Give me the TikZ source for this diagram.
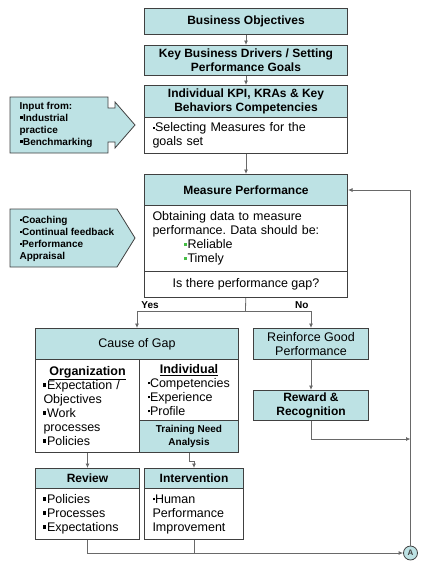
\documentclass[tikz,border=0pt]{standalone}
\usepackage{fontspec}
\setmainfont{Liberation Sans}
\usetikzlibrary{arrows.meta}

\definecolor{headfill}{RGB}{189,226,228}
\definecolor{boxline}{RGB}{64,64,64}
\definecolor{linegray}{RGB}{105,105,105}
\definecolor{bulgreen}{RGB}{70,190,70}
\newcommand{\sqbul}{\rule[2.5pt]{3pt}{3.5pt}\kern0.5pt}
\newcommand{\dotbul}{\rule[3pt]{2pt}{2pt}\kern0.5pt}
\newcommand{\grbul}{\textcolor{bulgreen}{\rule[2.5pt]{3.5pt}{3.5pt}}\kern0.5pt}
\frenchspacing

\begin{document}
\begin{tikzpicture}[x=1pt, y=-1pt,
  box/.style={draw=boxline, line width=1pt, anchor=north west, inner sep=0pt, align=center},
  head/.style={box, fill=headfill, font=\fontsize{12}{14}\selectfont\bfseries},
  body/.style={box, fill=white, align=left, font=\fontsize{12.5}{14}\selectfont},
  callout/.style={draw=boxline, line width=0.8pt, fill=headfill},
  note/.style={anchor=west, align=left, font=\fontsize{10}{12}\selectfont\bfseries},
  conn/.style={draw=linegray, line width=0.8pt, -{Latex[length=4.5pt,width=4pt]}},
  plain/.style={draw=linegray, line width=0.8pt}]
  \useasboundingbox (0,0) rectangle (425,563);

  %main column
  \node[head, minimum width=203pt, minimum height=26pt] (bo) at (144,8) {Business Objectives};
  \node[head, minimum width=203pt, minimum height=30pt] (kbd) at (144,45) {Key Business Drivers / Setting\\Performance Goals};
  \node[head, minimum width=203pt, minimum height=32pt] (kpih) at (144,85) {Individual KPI, KRAs \& Key\\Behaviors Competencies};
  \node[body, minimum width=203pt, minimum height=36pt, text width=187pt] (kpib) at (144,117) {\dotbul Selecting Measures for the\\goals set};
  \node[head, minimum width=203pt, minimum height=31pt] (mph) at (144,174) {Measure Performance};
  \node[body, minimum width=203pt, minimum height=66pt, text width=187pt] (mpb) at (144,205)
    {Obtaining data to measure\\performance. Data should be:\\\hspace*{31pt}\grbul Reliable\\\hspace*{31pt}\grbul Timely};
  \node[body, align=center, minimum width=203pt, minimum height=26pt] (gap) at (144,271) {Is there performance gap?};

  %cause of gap
  \node[head, font=\fontsize{12.5}{14}\selectfont, minimum width=203pt, minimum height=31pt] (cogh) at (35,328) {Cause of Gap};
  \node[body, minimum width=104pt, minimum height=93pt, text width=88pt] (org) at (35,359)
    {\makebox[88pt]{\bfseries\underline{Organization}}\\\sqbul Expectation /\\Objectives\\\sqbul Work\\processes\\\sqbul Policies};
  \node[body, minimum width=99pt, minimum height=61pt, text width=83pt] (ind) at (139,359)
    {\makebox[83pt]{\bfseries\underline{Individual}}\\\dotbul Competencies\\\dotbul Experience\\\dotbul Profile};
  \node[head, font=\fontsize{10}{13}\selectfont\bfseries, minimum width=99pt, minimum height=32pt] (tna) at (139,420) {Training Need\\Analysis};

  %no gap
  \node[head, font=\fontsize{12.5}{14}\selectfont, minimum width=115pt, minimum height=31pt] (rgp) at (253,328) {Reinforce Good\\Performance};
  \node[head, minimum width=115pt, minimum height=30pt] (rr) at (253,390) {Reward \&\\Recognition};

  %review and intervention
  \node[head, minimum width=104pt, minimum height=20pt] (revh) at (35,468) {Review};
  \node[body, minimum width=104pt, minimum height=51pt, text width=88pt] (revb) at (35,488)
    {\sqbul Policies\\\sqbul Processes\\\sqbul Expectations};
  \node[head, minimum width=99pt, minimum height=20pt] (inth) at (144,468) {Intervention};
  \node[body, minimum width=99pt, minimum height=51pt, text width=83pt] (intb) at (144,488)
    {\dotbul Human\\Performance\\Improvement};
  \node[circle, draw=boxline, line width=0.8pt, fill=headfill, inner sep=0pt, minimum size=14pt,
    font=\fontsize{8}{8}\selectfont\bfseries, text=boxline] (circA) at (410.5,553) {A};

  %callouts
  \draw[callout] (10,97) -- (108,97) -- (108,108) -- (115,108) -- (115,102) -- (135,125)
    -- (115,148) -- (115,142) -- (108,142) -- (108,153) -- (10,153) -- cycle;
  \node[note] (inputs) at (16,125) {Input from:\\\sqbul Industrial\\practice\\\sqbul Benchmarking};
  \draw[callout] (10,209) -- (117,209) -- (135,238) -- (117,267) -- (10,267) -- cycle;
  \node[note] (coach) at (16,239) {\dotbul Coaching\\\dotbul Continual feedback\\\dotbul Performance\\Appraisal};

  %connectors
  \draw[conn] (bo) -- (kbd);
  \draw[conn] (kbd) -- (kpih);
  \draw[conn] (kpib) -- (mph);
  \coordinate (fork) at (245.5,311);
  \draw[plain] (gap) -- (fork);
  \draw[conn] (fork) -| node[pos=0.44, above=-1pt, font=\fontsize{10}{10}\selectfont\bfseries] (yes) {Yes} (cogh);
  \draw[conn] (fork) -| node[pos=0.43, above=-1pt, font=\fontsize{10}{10}\selectfont\bfseries] (no) {No} (rgp);
  \draw[conn] (rgp) -- (rr);
  \coordinate (rrjoin) at (410.5,439);
  \draw[conn] (rr) |- (rrjoin);
  \draw[conn] (circA) |- (mph);
  \draw[conn] (org.south) -- (revh.north);
  \draw[conn] (tna.south) -- ++(0,8) -| (inth.north);
  \draw[conn] (revb.south) |- (circA.west);
  \draw[plain] (intb.south) -- (intb.south |- circA.west);
\end{tikzpicture}
\end{document}
